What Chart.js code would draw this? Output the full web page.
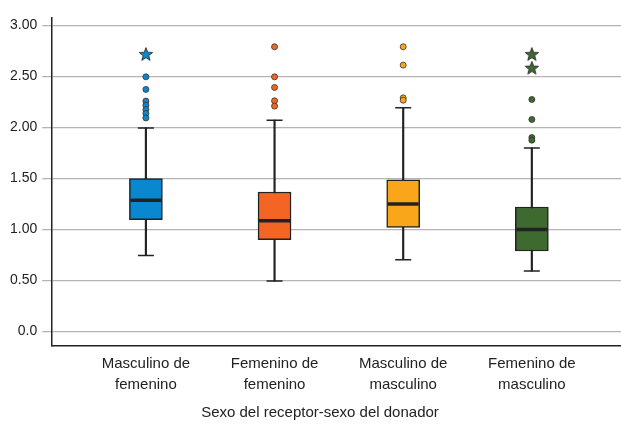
<!DOCTYPE html>
<html>
<head>
<meta charset="utf-8">
<script src="https://cdn.jsdelivr.net/npm/chart.js@4"></script>
<style>
html,body{margin:0;padding:0;background:#fff;}
#wrap{width:621px;height:425px;position:relative;}
</style>
</head>
<body>
<div id="wrap"><canvas id="c"></canvas></div>
<script>
// ---- data ----
const categories = [["Masculino de","femenino"],["Femenino de","femenino"],["Masculino de","masculino"],["Femenino de","masculino"]];
const whiskerLow  = [0.746, 0.494, 0.704, 0.592];
const q1          = [1.097, 0.900, 1.021, 0.789];
const median      = [1.286, 1.087, 1.250, 0.999];
const q3          = [1.500, 1.368, 1.486, 1.221];
const whiskerHigh = [1.996, 2.072, 2.193, 1.800];
const outliers = [
  [2.497, 2.374, 2.259, 2.219, 2.177, 2.138, 2.094],
  [2.792, 2.497, 2.393, 2.262, 2.210],
  [2.792, 2.612, 2.291, 2.268],
  [2.275, 2.079, 1.902, 1.876]
];
const extremes = [
  [2.720],
  [],
  [],
  [2.720, 2.586]
];
const yTicks = [0, 0.5, 1, 1.5, 2, 2.5, 3];
const xTitle = "Sexo del receptor-sexo del donador";

// ---- styles ----
const colors = ['#0a88cf', '#f26522', '#f9a61b', '#3e6a2f'];
const ink = '#222222';

function makeStar(color) {
  const s = 16, c = document.createElement('canvas');
  c.width = s; c.height = s;
  const g = c.getContext('2d');
  const cx = s/2, cy = s/2 + 0.6, R = 7, r = 2.9;
  g.beginPath();
  for (let i = 0; i < 10; i++) {
    const a = -Math.PI/2 + i*Math.PI/5;
    const rad = i % 2 === 0 ? R : r;
    const px = cx + rad*Math.cos(a), py = cy + rad*Math.sin(a);
    if (i === 0) g.moveTo(px, py); else g.lineTo(px, py);
  }
  g.closePath();
  g.fillStyle = color; g.fill();
  g.lineWidth = 0.9; g.strokeStyle = ink; g.stroke();
  return c;
}

const idx = categories.map((_, i) => i);
const outPts = [], outCols = [];
outliers.forEach((arr, i) => arr.forEach(v => { outPts.push({x: i, y: v}); outCols.push(colors[i]); }));
const starPts = [], starImgs = [];
extremes.forEach((arr, i) => arr.forEach(v => { starPts.push({x: i, y: v}); starImgs.push(makeStar(colors[i])); }));

const titlePlugin = {
  id: 'xtitle',
  afterDraw(chart) {
    const ctx = chart.ctx;
    ctx.save();
    ctx.font = '15px "Liberation Sans", Arial, sans-serif';
    ctx.fillStyle = ink;
    ctx.textAlign = 'center';
    ctx.textBaseline = 'middle';
    ctx.fillText(xTitle, 320, 413);
    ctx.restore();
  }
};

new Chart(document.getElementById('c'), {
  type: 'bar',
  data: {
    datasets: [
      {
        label: 'whisker',
        data: idx.map(i => ({x: i, y: [whiskerLow[i], whiskerHigh[i]]})),
        backgroundColor: ink,
        borderWidth: 0,
        barThickness: 1.5,
        grouped: false,
        order: 5
      },
      {
        label: 'box',
        data: idx.map(i => ({x: i, y: [q1[i], q3[i]]})),
        backgroundColor: colors,
        borderColor: ink,
        borderWidth: 1.5,
        borderSkipped: false,
        barThickness: 33,
        grouped: false,
        order: 4
      },
      {
        type: 'line',
        label: 'caps',
        data: idx.map(i => ({x: i, y: whiskerHigh[i]})).concat(idx.map(i => ({x: i, y: whiskerLow[i]}))),
        showLine: false,
        pointStyle: 'line',
        pointRadius: 8,
        pointHoverRadius: 8,
        pointBorderWidth: 1.5,
        pointBorderColor: ink,
        order: 3
      },
      {
        type: 'line',
        label: 'median',
        data: idx.map(i => ({x: i, y: median[i]})),
        showLine: false,
        pointStyle: 'line',
        pointRadius: 15.5,
        pointHoverRadius: 15.5,
        pointBorderWidth: 3.5,
        pointBorderColor: ink,
        order: 2
      },
      {
        type: 'line',
        label: 'outliers',
        data: outPts,
        showLine: false,
        pointStyle: 'circle',
        pointRadius: 3,
        pointHoverRadius: 3,
        pointBackgroundColor: outCols,
        pointBorderColor: '#333',
        pointBorderWidth: 0.8,
        order: 1
      },
      {
        type: 'line',
        label: 'extremes',
        data: starPts,
        showLine: false,
        pointStyle: starImgs,
        pointRadius: 7,
        order: 0
      }
    ]
  },
  options: {
    responsive: true,
    maintainAspectRatio: false,
    animation: false,
    events: [],
    layout: { autoPadding: false, padding: { left: 5, top: 18, right: 0, bottom: 22 } },
    plugins: { legend: { display: false }, tooltip: { enabled: false } },
    scales: {
      x: {
        type: 'linear',
        min: -0.728,
        max: 3.693,
        offset: false,
        afterBuildTicks: axis => { axis.ticks = idx.map(v => ({value: v})); },
        afterFit: axis => { axis.paddingLeft = 0; axis.paddingRight = 0; },
        grid: { display: false, drawTicks: false },
        border: { display: true, color: ink, width: 1.5 },
        ticks: {
          autoSkip: false,
          maxRotation: 0,
          padding: 7,
          color: ink,
          font: { family: '"Liberation Sans", Arial, sans-serif', size: 15, lineHeight: 1.45 },
          callback: v => categories[v]
        }
      },
      y: {
        min: -0.1375,
        max: 3.074,
        afterBuildTicks: axis => { axis.ticks = yTicks.map(v => ({value: v})); },
        grid: { color: '#b4b4b4', lineWidth: 1.3, tickLength: 10, drawTicks: true },
        border: { display: true, color: ink, width: 1.5 },
        ticks: {
          padding: 5,
          color: ink,
          font: { family: '"Liberation Sans", Arial, sans-serif', size: 14 },
          callback: v => v === 0 ? '0.0' : v.toFixed(2)
        }
      }
    }
  },
  plugins: [titlePlugin]
});
</script>
</body>
</html>
